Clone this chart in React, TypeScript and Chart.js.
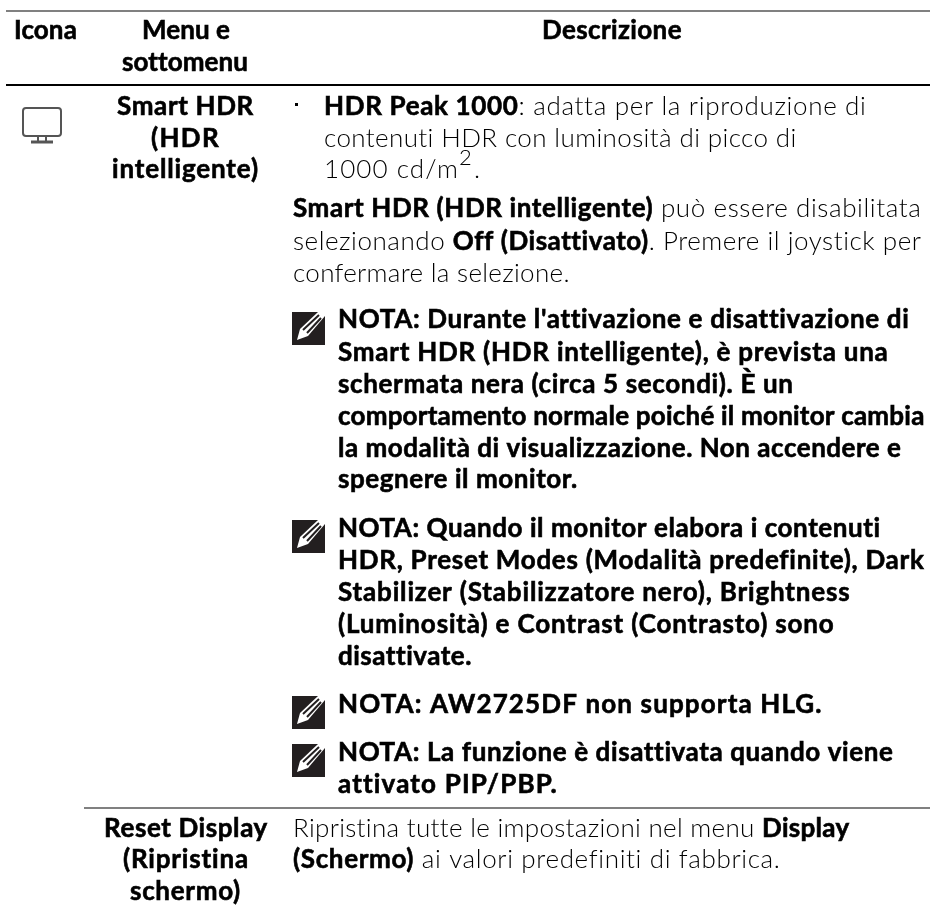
import React, { useEffect, useRef } from "react";
import { Chart, registerables } from "chart.js";

Chart.register(...registerables);

const FONT = "Lato";
const SIZE = 26;

// text content (** marks bold runs)
const headerLabels = ["**Icona**", "**Menu e**", "**sottomenu**", "**Descrizione**"];
const menuLabels = [
  "**Smart HDR**",
  "**(HDR**",
  "**intelligente)**",
  "**Reset Display**",
  "**(Ripristina**",
  "**schermo)**",
];
const descriptionLines = [
  "**HDR Peak 1000**: adatta per la riproduzione di",
  "contenuti HDR con luminosità di picco di",
  "1000 cd/m",
  "**Smart HDR (HDR intelligente)** può essere disabilitata",
  "selezionando **Off (Disattivato)**. Premere il joystick per",
  "confermare la selezione.",
  "Ripristina tutte le impostazioni nel menu **Display**",
  "**(Schermo)** ai valori predefiniti di fabbrica.",
];
const noteLines = [
  "**NOTA: Durante l'attivazione e disattivazione di**",
  "**Smart HDR (HDR intelligente), è prevista una**",
  "**schermata nera (circa 5 secondi). È un**",
  "**comportamento normale poiché il monitor cambia**",
  "**la modalità di visualizzazione. Non accendere e**",
  "**spegnere il monitor.**",
  "**NOTA: Quando il monitor elabora i contenuti**",
  "**HDR, Preset Modes (Modalità predefinite), Dark**",
  "**Stabilizer (Stabilizzatore nero), Brightness**",
  "**(Luminosità) e Contrast (Contrasto) sono**",
  "**disattivate.**",
  "**NOTA: AW2725DF non supporta HLG.**",
  "**NOTA: La funzione è disattivata quando viene**",
  "**attivato PIP/PBP.**",
];

// placement, in page units of the hidden axes: [left, right, baseline]
const headerBox = [
  [14, 77, 39],
  [142, 230, 39],
  [122, 248, 71],
  [542, 682, 39],
];
const menuBox = [
  [117, 254, 115],
  [151, 220, 147],
  [112, 259, 178],
  [104, 268, 837],
  [123, 249, 868],
  [130, 241, 900],
];
const descBox = [
  [324, 867, 115],
  [324, 797, 147],
  [324, 459, 178],
  [293, 922, 217],
  [293, 922, 250],
  [293, 570, 282],
  [293, 850, 837],
  [293, 781, 868],
];
const noteBox = [
  [338, 910, 328],
  [338, 889, 361],
  [338, 794, 393],
  [338, 925, 425],
  [338, 902, 457],
  [338, 578, 488],
  [338, 881, 537],
  [338, 925, 569],
  [338, 851, 601],
  [338, 835, 633],
  [338, 472, 665],
  [338, 823, 713],
  [338, 894, 761],
  [338, 558, 793],
];
const noteIconY = [312, 520, 696, 744];

const rules = [
  { x1: 6, x2: 930, y: 11, color: "#808080", width: 2 },
  { x1: 6, x2: 930, y: 85, color: "#000000", width: 2 },
  { x1: 84, x2: 930, y: 808, color: "#808080", width: 2 },
];

const px = (chart: any, x: number) => chart.scales.x.getPixelForValue(x);
const py = (chart: any, y: number) => chart.scales.y.getPixelForValue(y);

function parseRuns(s: string) {
  return s.split("**").map((t, i) => ({ t, bold: i % 2 === 1 })).filter((r) => r.t);
}

// draws one line, spaced so that it runs from left to right
function drawLine(ctx: CanvasRenderingContext2D, s: string, left: number, right: number, y: number) {
  const runs = parseRuns(s);
  const setFont = (bold: boolean) => {
    ctx.font = `${bold ? 700 : 300} ${SIZE}px ${FONT}`;
  };
  (ctx as any).letterSpacing = "0.01px";
  let total = 0;
  let chars = 0;
  for (const r of runs) {
    setFont(r.bold);
    total += ctx.measureText(r.t).width;
    chars += r.t.length;
  }
  const gap = (right - left - total) / chars;
  (ctx as any).letterSpacing = `${gap}px`;
  ctx.textAlign = "left";
  ctx.textBaseline = "alphabetic";
  ctx.fillStyle = "#000";
  let cx = left;
  for (const r of runs) {
    setFont(r.bold);
    ctx.fillText(r.t, cx, y);
    if (r.bold) {
      ctx.strokeStyle = "#000";
      ctx.lineWidth = 0.6;
      ctx.strokeText(r.t, cx, y);
    }
    cx += ctx.measureText(r.t).width;
  }
  (ctx as any).letterSpacing = "0px";
  return cx;
}

const docPlugin = {
  id: "doc",
  afterDatasetsDraw(chart: any) {
    const ctx: CanvasRenderingContext2D = chart.ctx;
    ctx.save();
    const put = (s: string, b: number[]) =>
      drawLine(ctx, s, px(chart, b[0]), px(chart, b[1]), py(chart, b[2]));
    headerLabels.forEach((s, i) => put(s, headerBox[i]));
    menuLabels.forEach((s, i) => put(s, menuBox[i]));
    descriptionLines.forEach((s, i) => {
      const end = put(s, descBox[i]);
      if (s === "1000 cd/m") {
        ctx.font = `300 22px ${FONT}`;
        ctx.fillText("2", end, py(chart, 165));
        ctx.font = `300 ${SIZE}px ${FONT}`;
        ctx.fillText(".", end + 15, py(chart, 178));
      }
    });
    noteLines.forEach((s, i) => put(s, noteBox[i]));

    // bullet
    ctx.fillStyle = "#000";
    ctx.fillRect(px(chart, 295), py(chart, 103), 3, 3);

    // monitor icon
    const ix = px(chart, 23), iy = py(chart, 108);
    ctx.strokeStyle = "#555";
    ctx.lineWidth = 2;
    ctx.beginPath();
    ctx.roundRect(ix, iy, 38, 28, 3);
    ctx.moveTo(ix + 15, iy + 28);
    ctx.lineTo(ix + 15, iy + 33);
    ctx.moveTo(ix + 23, iy + 28);
    ctx.lineTo(ix + 23, iy + 33);
    ctx.stroke();
    ctx.lineWidth = 3;
    ctx.beginPath();
    ctx.moveTo(ix + 8, iy + 34);
    ctx.lineTo(ix + 30, iy + 34);
    ctx.stroke();

    // note icons
    noteIconY.forEach((v) => {
      const x0 = px(chart, 292), y0 = py(chart, v);
      ctx.fillStyle = "#231f20";
      ctx.fillRect(x0, y0, 33, 33);
      ctx.fillStyle = "#fff";
      ctx.beginPath();
      ctx.moveTo(x0 + 5, y0 + 28);
      ctx.lineTo(x0 + 8, y0 + 17);
      ctx.lineTo(x0 + 26, y0);
      ctx.lineTo(x0 + 33, y0);
      ctx.lineTo(x0 + 33, y0 + 4);
      ctx.lineTo(x0 + 16, y0 + 24);
      ctx.closePath();
      ctx.fill();
      ctx.strokeStyle = "#231f20";
      ctx.lineWidth = 2;
      ctx.beginPath();
      ctx.moveTo(x0 + 11, y0 + 18);
      ctx.lineTo(x0 + 27, y0 + 3);
      ctx.moveTo(x0 + 15, y0 + 21);
      ctx.lineTo(x0 + 29, y0 + 6);
      ctx.stroke();
    });
    ctx.restore();
  },
};

export default function App() {
  const ref = useRef<HTMLCanvasElement | null>(null);
  useEffect(() => {
    const chart = new Chart(ref.current as HTMLCanvasElement, {
      type: "scatter",
      data: {
        datasets: rules.map((r) => ({
          data: [
            { x: r.x1, y: r.y },
            { x: r.x2, y: r.y },
          ],
          showLine: true,
          borderColor: r.color,
          borderWidth: r.width,
          pointRadius: 0,
        })),
      },
      options: {
        responsive: false,
        animation: false,
        layout: { padding: 0 },
        plugins: { legend: { display: false }, tooltip: { enabled: false } },
        scales: {
          x: { type: "linear", min: 0, max: 930, display: false },
          y: { type: "linear", min: 0, max: 911, reverse: true, display: false },
        },
      },
      plugins: [docPlugin],
    } as any);
    return () => chart.destroy();
  }, []);
  return (
    <div style={{ position: "absolute", left: 0, top: 0, width: 930, height: 911, background: "#fff" }}>
      <canvas ref={ref} width={930} height={911} style={{ display: "block" }} />
    </div>
  );
}
